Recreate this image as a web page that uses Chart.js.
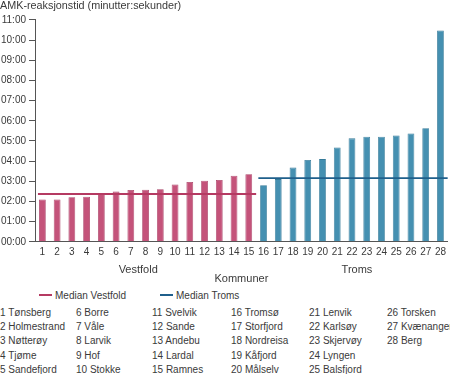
<!DOCTYPE html>
<html>
<head>
<meta charset="utf-8">
<script src="https://cdn.jsdelivr.net/npm/chart.js@4/dist/chart.umd.min.js"></script>
<style>
body { margin: 0; background: #fff; font-family: "Liberation Sans", Arial, sans-serif; color: #3a3a3a; }
#wrap { position: relative; width: 450px; height: 374px; overflow: hidden; }
#chart-box { position: absolute; left: 0; top: 0; width: 450px; height: 288px; }
.lg { position: absolute; top: 290px; font-size: 10px; line-height: 12px; white-space: nowrap; }
.lg i { display: inline-block; width: 13px; height: 2px; vertical-align: middle; margin-right: 3px; position: relative; top: -1px; }
.col { position: absolute; top: 306px; font-size: 10px; line-height: 14.2px; white-space: nowrap; }
</style>
</head>
<body>
<div id="wrap">
  <div id="chart-box"><canvas id="amk-chart" width="450" height="288"></canvas></div>
  <div class="lg" style="left:39px"><i style="background:#b53a62"></i>Median Vestfold</div>
  <div class="lg" style="left:160px"><i style="background:#1f5f8b"></i>Median Troms</div>
  <div id="names"></div>
</div>
<script>
// reaksjonstid i minutter (desimal), lest av figuren
var vestfoldTid = [2.10, 2.10, 2.21, 2.24, 2.37, 2.49, 2.57, 2.58, 2.61, 2.84, 2.97, 3.03, 3.07, 3.28, 3.35];
var tromsTid = [2.81, 3.11, 3.68, 4.06, 4.10, 4.68, 5.13, 5.21, 5.21, 5.27, 5.37, 5.63, 10.48];
var medianVestfold = 2.37;
var medianTroms = 3.16;

var vestfoldNavn = ["Tønsberg", "Holmestrand", "Nøtterøy", "Tjøme", "Sandefjord", "Borre", "Våle", "Larvik", "Hof", "Stokke",
  "Svelvik", "Sande", "Andebu", "Lardal", "Ramnes"];
var tromsNavn = ["Tromsø", "Storfjord", "Nordreisa", "Kåfjord", "Målselv", "Lenvik", "Karlsøy", "Skjervøy", "Lyngen", "Balsfjord",
  "Torsken", "Kvænangen", "Berg"];
var yTicks = [0, 1, 2, 3, 4, 5, 6, 7, 8, 9, 10, 11];

var alleNavn = vestfoldNavn.concat(tromsNavn);
var labels = alleNavn.map(function (n, i) { return String(i + 1); });
var values = vestfoldTid.concat(tromsTid);
var colors = values.map(function (v, i) { return i < vestfoldTid.length ? '#c4537a' : '#4590b1'; });
var borders = values.map(function (v, i) { return i < vestfoldTid.length ? '#a94066' : '#357a99'; });

// list of kommuner under the chart, 5 per column
var colLeft = [0, 76, 152, 231, 309, 387];
var namesDiv = document.getElementById('names');
for (var c = 0; c < 6; c++) {
  var d = document.createElement('div');
  d.className = 'col';
  d.style.left = colLeft[c] + 'px';
  var html = [];
  for (var r = 0; r < 5; r++) {
    var k = c * 5 + r;
    if (k < alleNavn.length) html.push((k + 1) + ' ' + alleNavn[k]);
  }
  d.innerHTML = html.join('<br>');
  namesDiv.appendChild(d);
}

function mmss(v) {
  var m = Math.floor(v);
  var s = Math.round((v - m) * 60);
  return (m < 10 ? '0' : '') + m + ':' + (s < 10 ? '0' : '') + s;
}

var groupLabels = {
  id: 'groupLabels',
  afterDraw: function (chart) {
    var ctx = chart.ctx, x = chart.scales.x;
    ctx.save();
    ctx.font = '11px "Liberation Sans", Arial, sans-serif';
    ctx.fillStyle = '#3a3a3a';
    ctx.textAlign = 'center';
    ctx.textBaseline = 'middle';
    ctx.fillText('Vestfold', (x.getPixelForValue(6) + x.getPixelForValue(7)) / 2, 270);
    ctx.fillText('Troms', x.getPixelForValue(21) + 5, 270);
    ctx.restore();
  }
};

new Chart(document.getElementById('amk-chart'), {
  type: 'bar',
  data: {
    labels: labels,
    datasets: [
      {
        type: 'line',
        label: 'Median Vestfold',
        xAxisID: 'xm',
        data: [{x: 0.7, y: medianVestfold}, {x: 15.5, y: medianVestfold}],
        borderColor: '#b53a62',
        borderWidth: 1.8,
        pointRadius: 0,
        order: 0
      },
      {
        type: 'line',
        label: 'Median Troms',
        xAxisID: 'xm',
        data: [{x: 15.65, y: medianTroms}, {x: 28.5, y: medianTroms}],
        borderColor: '#1f5f8b',
        borderWidth: 1.8,
        pointRadius: 0,
        order: 0
      },
      {
        label: 'AMK-reaksjonstid',
        data: values,
        backgroundColor: colors,
        borderColor: borders,
        borderWidth: 0.8,
        grouped: false,
        categoryPercentage: 1,
        barPercentage: 0.46,
        order: 1
      }
    ]
  },
  options: {
    responsive: false,
    animation: false,
    layout: { padding: { left: 0, right: 0, top: 0, bottom: 2 } },
    plugins: {
      legend: { display: false },
      tooltip: { enabled: false },
      title: {
        display: true,
        text: 'AMK-reaksjonstid (minutter:sekunder)',
        align: 'start',
        color: '#3a3a3a',
        font: { family: '"Liberation Sans", Arial, sans-serif', size: 10.8, weight: 'normal' },
        padding: { top: 0, bottom: 7 }
      }
    },
    scales: {
      x: {
        offset: true,
        grid: { display: true, drawOnChartArea: false, drawTicks: false },
        border: { color: '#555', width: 1 },
        ticks: {
          color: '#3a3a3a', padding: 4, maxRotation: 0, autoSkip: false,
          font: { family: '"Liberation Sans", Arial, sans-serif', size: 10 }
        },
        title: {
          display: true,
          text: 'Kommuner',
          color: '#3a3a3a',
          font: { family: '"Liberation Sans", Arial, sans-serif', size: 11 },
          padding: { top: 11, bottom: 0 }
        }
      },
      xm: {
        type: 'linear',
        display: false,
        offset: false,
        min: 0.5,
        max: 28.5
      },
      y: {
        min: yTicks[0],
        max: yTicks[yTicks.length - 1],
        afterBuildTicks: function (scale) {
          scale.ticks = yTicks.map(function (v) { return {value: v}; });
        },
        afterFit: function (scale) { scale.width = 35; },
        grid: { display: true, drawOnChartArea: false, drawTicks: true, tickLength: 6, color: '#555' },
        border: { color: '#555', width: 1 },
        ticks: {
          color: '#3a3a3a', padding: 3,
          font: { family: '"Liberation Sans", Arial, sans-serif', size: 10 },
          callback: function (v) { return mmss(v); }
        }
      }
    }
  },
  plugins: [groupLabels]
});
</script>
</body>
</html>
